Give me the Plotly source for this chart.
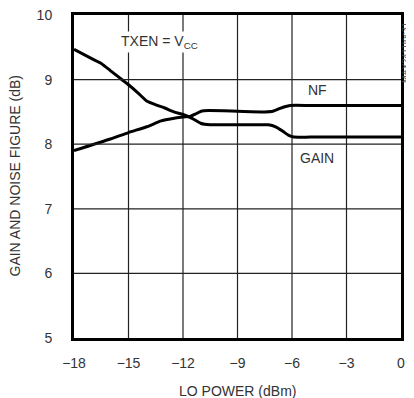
import plotly.graph_objects as go

# LO power sweep (dBm) and curves
gain_x = [-18, -17, -16.5, -16, -15.5, -15, -14.5, -14, -13.5, -13, -12.5, -12, -11.5, -11,
          -10.5, -10, -9, -8, -7.3, -6.9, -6.5, -6.2, -5.9, -5, -3, 0]
gain_y = [9.47, 9.32, 9.25, 9.14, 9.03, 8.92, 8.80, 8.67, 8.61, 8.56, 8.50, 8.46, 8.40, 8.32,
          8.30, 8.30, 8.30, 8.30, 8.30, 8.27, 8.20, 8.14, 8.11, 8.11, 8.11, 8.11]

nf_x = [-18, -16, -15, -14, -13.2, -12.7, -12, -11.6, -11.3, -11, -10.6, -9, -7.5, -7.05,
        -6.7, -6.4, -6.1, -5, -3, 0]
nf_y = [7.90, 8.08, 8.18, 8.27, 8.36, 8.39, 8.42, 8.43, 8.47, 8.51, 8.52, 8.51, 8.50, 8.51,
        8.55, 8.58, 8.60, 8.60, 8.60, 8.60]

x_ticks = [-18, -15, -12, -9, -6, -3, 0]
y_ticks = [5, 6, 7, 8, 9, 10]

FONT = "Liberation Sans, Arial, sans-serif"
TXT = '#333'

fig = go.Figure()

# grid lines, one trace each, built from the tick lists
for xv in x_ticks[1:-1]:
    fig.add_trace(go.Scatter(x=[xv, xv], y=[y_ticks[0], y_ticks[-1]], mode='lines',
                             hoverinfo='skip', line=dict(color='#222', width=1.2)))
for yv in y_ticks[1:-1]:
    fig.add_trace(go.Scatter(x=[x_ticks[0], x_ticks[-1]], y=[yv, yv], mode='lines',
                             hoverinfo='skip', line=dict(color='#222', width=1.2),
                             xaxis='x2', yaxis='y2'))

fig.add_trace(go.Scatter(x=gain_x, y=gain_y, mode='lines', name='GAIN',
                         line=dict(color='black', width=3, shape='spline', smoothing=0.5)))
fig.add_trace(go.Scatter(x=nf_x, y=nf_y, mode='lines', name='NF',
                         line=dict(color='black', width=3, shape='spline', smoothing=0.5)))

# in-plot labels
fig.add_annotation(x=-13.3, y=9.58, text="TXEN = V<sub>CC</sub>", showarrow=False,
                   font=dict(size=14, color=TXT), bgcolor='white')
fig.add_annotation(x=-4.6, y=8.84, text="NF", showarrow=False, font=dict(size=14, color=TXT))
fig.add_annotation(x=-4.6, y=7.78, text="GAIN", showarrow=False, font=dict(size=14, color=TXT))
fig.add_annotation(x=1, y=1, xref='paper', yref='paper', xshift=4, yshift=-38,
                   xanchor='center', yanchor='middle',
                   text="MAX2411toc31", showarrow=False, textangle=-90,
                   font=dict(size=9, color='#444'))
# axis titles
fig.add_annotation(x=0, y=0.5, xref='paper', yref='paper', xshift=-60, xanchor='center',
                   yanchor='middle', text="GAIN AND NOISE FIGURE (dB)",
                   showarrow=False, textangle=-90, font=dict(size=14, color=TXT))
fig.add_annotation(x=0.5, y=0, xref='paper', yref='paper', yshift=-53, xanchor='center',
                   yanchor='middle', text="LO POWER (dBm)",
                   showarrow=False, font=dict(size=14, color=TXT))

axis_common = dict(ticks='', showgrid=False, showline=True, linewidth=3, linecolor='black',
                   zeroline=False, automargin=False)

fig.update_layout(
    width=414, height=398,
    margin=dict(l=66, r=21, t=7, b=68, autoexpand=False),
    paper_bgcolor='white', plot_bgcolor='white',
    showlegend=False,
    font=dict(family=FONT, size=14, color=TXT),
    xaxis=dict(range=[-18, 0], tickvals=x_ticks, ticklabelstandoff=10, mirror=True,
               ticklabeloverflow='allow', **axis_common),
    yaxis=dict(range=[5, 10], tickvals=y_ticks, ticklabelstandoff=16, mirror=True,
               ticklabeloverflow='allow', **axis_common),
    xaxis2=dict(range=[-18, 0], overlaying='x', side='top', showticklabels=False,
                **axis_common),
    yaxis2=dict(range=[5, 10], overlaying='y', side='right', showticklabels=False,
                **axis_common),
)

fig.write_html("out.html")
